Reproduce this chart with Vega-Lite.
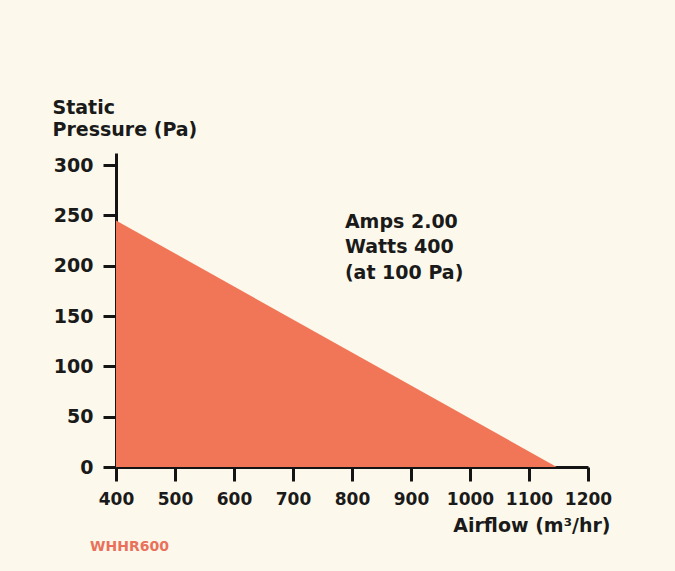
{
  "$schema": "https://vega.github.io/schema/vega-lite/v6.json",
  "width": 472,
  "height": 314,
  "autosize": {"type": "none"},
  "padding": {"left": 116, "top": 153, "right": 87, "bottom": 104},
  "background": "#fcf8eb",
  "config": {
    "view": {"stroke": null},
    "font": "DejaVu Sans",
    "axis": {
      "domainColor": "#141414",
      "domainWidth": 3,
      "tickColor": "#141414",
      "tickWidth": 3,
      "grid": false,
      "labelFont": "DejaVu Sans",
      "labelFontWeight": "bold",
      "labelColor": "#1a1a1a",
      "labelFontSize": 18,
      "labelOverlap": false,
      "titleFont": "DejaVu Sans",
      "titleFontWeight": "bold",
      "titleColor": "#1a1a1a",
      "titleFontSize": 19
    }
  },
  "title": {
    "text": "WHHR600",
    "orient": "bottom",
    "anchor": "start",
    "frame": "group",
    "dx": -26,
    "offset": 5,
    "font": "DejaVu Sans",
    "fontSize": 14,
    "fontWeight": "bold",
    "color": "#e9715b",
    "baseline": "top"
  },
  "datasets": {
    "curve": [
      {"airflow": 400, "pressure": 245},
      {"airflow": 1147, "pressure": 0}
    ],
    "note": [
      {"airflow": 788, "pressure": 237.5, "label": ["Amps 2.00", "Watts 400", "(at 100 Pa)"]}
    ]
  },
  "layer": [
    {
      "data": {"name": "curve"},
      "mark": {"type": "area", "color": "#f17657", "opacity": 1},
      "encoding": {
        "x": {
          "field": "airflow",
          "type": "quantitative",
          "scale": {"domain": [400, 1200], "nice": false, "zero": false},
          "axis": {
            "values": [400, 500, 600, 700, 800, 900, 1000, 1100, 1200],
            "format": "d",
            "labelFontSize": 17,
            "tickSize": 14,
            "labelPadding": 10,
            "labelFlush": false,
            "title": "Airflow (m³/hr)",
            "titleAlign": "right",
            "titleAnchor": "end",
            "titleBaseline": "alphabetic",
            "titleX": 494,
            "titleY": 64
          }
        },
        "y": {
          "field": "pressure",
          "type": "quantitative",
          "scale": {"domain": [0, 312], "nice": false},
          "axis": {
            "values": [0, 50, 100, 150, 200, 250, 300],
            "format": "d",
            "labelFontSize": 19,
            "tickSize": 13,
            "labelPadding": 10,
            "labelFlush": false,
            "title": ["Static", "Pressure (Pa)"],
            "titleAngle": 0,
            "titleAlign": "left",
            "titleAnchor": "start",
            "titleBaseline": "alphabetic",
            "titleLineHeight": 22.5,
            "titleX": -64,
            "titleY": -40
          }
        }
      }
    },
    {
      "data": {"name": "note"},
      "mark": {
        "type": "text",
        "align": "left",
        "baseline": "alphabetic",
        "font": "DejaVu Sans",
        "fontWeight": "bold",
        "fontSize": 19,
        "lineHeight": 25.5,
        "color": "#1a1a1a"
      },
      "encoding": {
        "x": {"field": "airflow", "type": "quantitative"},
        "y": {"field": "pressure", "type": "quantitative"},
        "text": {"field": "label"}
      }
    }
  ]
}
